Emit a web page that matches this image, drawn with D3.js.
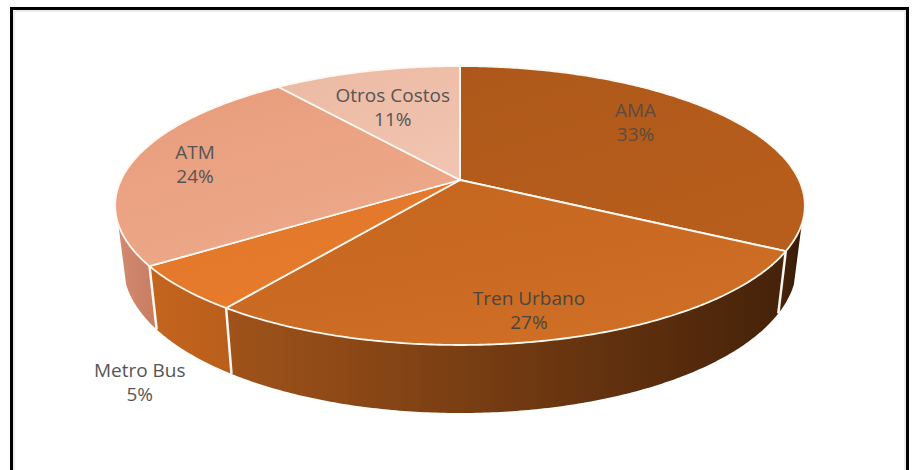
<!DOCTYPE html>
<html>
<head>
<meta charset="utf-8">
<script src="https://cdn.jsdelivr.net/npm/d3@7"></script>
<style>
  html, body { margin: 0; padding: 0; background: #fff; }
  svg { display: block; }
</style>
</head>
<body>
<div id="wrapper"></div>
<script>
// data (the labels are rounded)
const categories = ["AMA", "Tren Urbano", "Metro Bus", "ATM", "Otros Costos"];
const values = [33, 27, 5.3, 24.2, 10.5];
const percentLabels = ["33%", "27%", "5%", "24%", "11%"];

const topColors = [
  ["#ad581a", "#b85e1c"],
  ["#c4651f", "#cf6e25"],
  ["#e0742a", "#e87c2c"],
  ["#e89c7b", "#edaa8b"],
  ["#ecb9a2", "#f0c4b0"]
];
const sideColors = [
  ["#4a250a", "#351a06"],
  ["#a0531a", "#452209"],
  ["#c4651e", "#b85e1c"],
  ["#d18a70", "#c97c60"],
  ["#d18a70", "#c97c60"]
];
const labelColors = ["#5f4a3e", "#4a4540", "#555555", "#555555", "#555555"];

const width = 912;
const height = 470;

// perspective of the disc
const view = { cx: 460, cy: 180, a: 339, b: 134.8, k: 0.183 };
const sideVisible = [108, 252].map(d => d * Math.PI / 180);

// radius factor and angle nudge (degrees) of each label around its slice middle
const labelRadius = [0.729, 0.838, 1.39, 0.808, 0.641];
const labelShift = [-9, 0.7, -13.3, 0, -1.2].map(d => d * Math.PI / 180);

const project = (angle, r = 1) => {
  const u = r * Math.sin(angle);
  const v = r * Math.cos(angle);
  const w = 1 + view.k * v;
  return [view.cx + view.a * u / w, view.cy - view.b * v / w];
};

// same rim point on the lower edge of the disc
const projectBottom = (angle) => {
  const [x, y] = project(angle);
  const depth = 57 - 11 * Math.cos(angle);
  return [view.cx + 0.977 * (x - view.cx), y + depth];
};

const rim = (a0, a1) => {
  const n = Math.max(2, Math.ceil((a1 - a0) / 0.01));
  return d3.range(n + 1).map(i => a0 + (a1 - a0) * i / n);
};

const line = d3.line();

const svg = d3.select("#wrapper")
  .append("svg")
    .attr("width", width)
    .attr("height", height)
    .attr("viewBox", `0 0 ${width} ${height}`);

// frame of the page
svg.append("rect")
  .attr("x", 11.5).attr("y", 8.5)
  .attr("width", 896).attr("height", 480)
  .attr("fill", "#fff")
  .attr("stroke", "#000")
  .attr("stroke-width", 3);
svg.append("rect")
  .attr("x", 14).attr("y", 11)
  .attr("width", 891).attr("height", 480)
  .attr("fill", "none")
  .attr("stroke", "#e6e6e6")
  .attr("stroke-width", 1.5);

const pie = d3.pie().sort(null);
const arcs = pie(values);

const defs = svg.append("defs");
const addGradient = (id, stops, horizontal) => {
  const g = defs.append("linearGradient")
    .attr("id", id)
    .attr("x1", 0).attr("y1", 0)
    .attr("x2", horizontal ? 1 : 0.6).attr("y2", horizontal ? 0 : 1);
  g.append("stop").attr("offset", "0%").attr("stop-color", stops[0]);
  g.append("stop").attr("offset", "100%").attr("stop-color", stops[1]);
};
topColors.forEach((c, i) => addGradient(`top${i}`, c, false));
sideColors.forEach((c, i) => addGradient(`side${i}`, c, true));

// side walls, only the part facing the camera
const sides = svg.append("g");
arcs.forEach((d, i) => {
  const a0 = Math.max(d.startAngle, sideVisible[0]);
  const a1 = Math.min(d.endAngle, sideVisible[1]);
  if (a1 <= a0) return;
  const steps = rim(a0, a1);
  const pts = steps.map(a => project(a)).concat(steps.slice().reverse().map(projectBottom));
  sides.append("path")
    .attr("d", line(pts) + "Z")
    .attr("fill", `url(#side${i})`);
});

// white seams between the walls
arcs.forEach(d => {
  if (d.endAngle <= sideVisible[0] || d.endAngle >= sideVisible[1]) return;
  sides.append("path")
    .attr("d", line([project(d.endAngle), projectBottom(d.endAngle)]))
    .attr("fill", "none")
    .attr("stroke", "#fdf8f2")
    .attr("stroke-width", 2.5);
});

// top of the disc
svg.append("g")
  .selectAll("path")
  .data(arcs)
  .join("path")
    .attr("d", d => line([[view.cx, view.cy]].concat(rim(d.startAngle, d.endAngle).map(a => project(a)))) + "Z")
    .attr("fill", (d, i) => `url(#top${i})`)
    .attr("stroke", "#fdf8f2")
    .attr("stroke-width", 1.8)
    .attr("stroke-linejoin", "round");

// labels
const labels = svg.append("g")
  .attr("font-family", "'Open Sans', 'Noto Sans', sans-serif")
  .attr("font-size", 19)
  .attr("text-anchor", "middle")
  .selectAll("text")
  .data(arcs)
  .join("text")
    .attr("fill", (d, i) => labelColors[i])
    .attr("transform", (d, i) => {
      const mid = (d.startAngle + d.endAngle) / 2 + labelShift[i];
      const [x, y] = project(mid, labelRadius[i]);
      return `translate(${x},${y})`;
    });
labels.append("tspan")
  .attr("x", 0).attr("y", -5)
  .text((d, i) => categories[i]);
labels.append("tspan")
  .attr("x", 0).attr("y", 19)
  .text((d, i) => percentLabels[i]);
</script>
</body>
</html>
